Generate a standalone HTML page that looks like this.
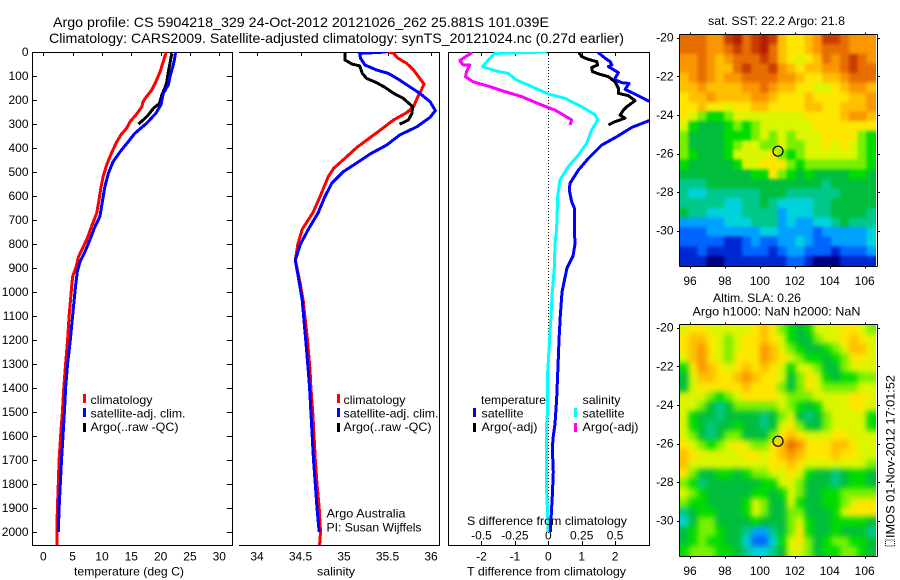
<!DOCTYPE html>
<html>
<head>
<meta charset="utf-8">
<title>Argo profile 5904218_329</title>
<style>
html,body{margin:0;padding:0;background:#fff;}
svg{display:block;font-family:"Liberation Sans",sans-serif;font-size:12px;fill:#000;}
.crisp{shape-rendering:crispEdges;}
</style>
</head>
<body>
<svg id="figure" xmlns="http://www.w3.org/2000/svg" width="900" height="580" viewBox="0 0 900 580">
<rect x="0" y="0" width="900" height="580" fill="#fff"/>
<defs>
<clipPath id="clip-temp"><rect x="33" y="52" width="199" height="493"/></clipPath>
<clipPath id="clip-sal"><rect x="239" y="52" width="201" height="493"/></clipPath>
<clipPath id="clip-diff"><rect x="449" y="52" width="200" height="493"/></clipPath>
<clipPath id="clip-sst-map"><rect x="680" y="35" width="196" height="231"/></clipPath>
<clipPath id="clip-sla-map"><rect x="680" y="325" width="196" height="231"/></clipPath>
<filter id="blur-sst-map" color-interpolation-filters="sRGB" x="-10%" y="-10%" width="120%" height="120%">
<feGaussianBlur stdDeviation="1.7"/>
<feComponentTransfer><feFuncA type="linear" slope="100"/></feComponentTransfer>
</filter>
<filter id="blur-sla-map" color-interpolation-filters="sRGB" x="-10%" y="-10%" width="120%" height="120%">
<feGaussianBlur stdDeviation="3"/>
<feComponentTransfer><feFuncA type="linear" slope="100"/></feComponentTransfer>
</filter>
</defs>

<text x="53" y="27" font-size="14" textLength="496" lengthAdjust="spacingAndGlyphs">Argo profile: CS 5904218_329 24-Oct-2012 20121026_262 25.881S 101.039E</text>
<text x="49" y="43" font-size="14" textLength="575" lengthAdjust="spacingAndGlyphs">Climatology: CARS2009. Satellite-adjusted climatology: synTS_20121024.nc (0.27d earlier)</text>

<g id="temp-panel"></g>
<g id="sal-panel"></g>
<g id="diff-panel"></g>
<g id="sst-map"></g>
<g id="sla-map"></g>

<text x="74" y="575.5" textLength="110" lengthAdjust="spacingAndGlyphs">temperature (deg C)</text>
<text x="317" y="575.5" textLength="38" lengthAdjust="spacingAndGlyphs">salinity</text>
<text x="467" y="575.5" textLength="159" lengthAdjust="spacingAndGlyphs">T difference from climatology</text>
<text x="467" y="525" textLength="160" lengthAdjust="spacingAndGlyphs">S difference from climatology</text>

<g>
<rect class="crisp" x="83" y="394" width="3" height="9" fill="#f00"/>
<rect class="crisp" x="83" y="408" width="3" height="9" fill="#00f"/>
<rect class="crisp" x="83" y="423" width="3" height="9" fill="#000"/>
<text x="90.5" y="404" textLength="62" lengthAdjust="spacingAndGlyphs">climatology</text>
<text x="90.5" y="417.5" textLength="95" lengthAdjust="spacingAndGlyphs">satellite-adj. clim.</text>
<text x="90.5" y="431" textLength="88" lengthAdjust="spacingAndGlyphs">Argo(..raw -QC)</text>
</g>
<g>
<rect class="crisp" x="337" y="394" width="3" height="9" fill="#f00"/>
<rect class="crisp" x="337" y="408" width="3" height="9" fill="#00f"/>
<rect class="crisp" x="337" y="423" width="3" height="9" fill="#000"/>
<text x="343.5" y="404" textLength="62" lengthAdjust="spacingAndGlyphs">climatology</text>
<text x="343.5" y="417.5" textLength="95" lengthAdjust="spacingAndGlyphs">satellite-adj. clim.</text>
<text x="343.5" y="431" textLength="88" lengthAdjust="spacingAndGlyphs">Argo(..raw -QC)</text>
<text x="326.5" y="517.5" textLength="79" lengthAdjust="spacingAndGlyphs">Argo Australia</text>
<text x="326.5" y="531.5" textLength="95" lengthAdjust="spacingAndGlyphs">PI: Susan Wijffels</text>
</g>
<g>
<text x="481" y="404" textLength="65" lengthAdjust="spacingAndGlyphs">temperature</text>
<rect class="crisp" x="473" y="408" width="3" height="9" fill="#00f"/>
<text x="481.5" y="417.5" textLength="42" lengthAdjust="spacingAndGlyphs">satellite</text>
<rect class="crisp" x="473" y="423" width="3" height="9" fill="#000"/>
<text x="481.5" y="431" textLength="56" lengthAdjust="spacingAndGlyphs">Argo(-adj)</text>
<text x="582.5" y="404" textLength="38" lengthAdjust="spacingAndGlyphs">salinity</text>
<rect class="crisp" x="574" y="408" width="3" height="9" fill="#0ff"/>
<text x="582.5" y="417.5" textLength="42" lengthAdjust="spacingAndGlyphs">satellite</text>
<rect class="crisp" x="574" y="423" width="3" height="9" fill="#f0f"/>
<text x="582.5" y="431" textLength="56" lengthAdjust="spacingAndGlyphs">Argo(-adj)</text>
</g>

<text x="708" y="25" textLength="137" lengthAdjust="spacingAndGlyphs">sat. SST: 22.2 Argo: 21.8</text>
<text x="713" y="302" textLength="88" lengthAdjust="spacingAndGlyphs">Altim. SLA: 0.26</text>
<text x="692.5" y="315.5" textLength="168" lengthAdjust="spacingAndGlyphs">Argo h1000: NaN h2000: NaN</text>

<rect class="crisp" x="885.5" y="540" width="9" height="6" fill="none" stroke="#000" stroke-width="1" stroke-dasharray="1 1"/>
<text transform="translate(894.5,538) rotate(-90)" textLength="163" lengthAdjust="spacingAndGlyphs">IMOS 01-Nov-2012 17:01:52</text>

<script>
// ---- Axis tick values ----
const depthTicks = [0,100,200,300,400,500,600,700,800,900,1000,1100,1200,1300,1400,1500,1600,1700,1800,1900,2000];
const tempTicks = [0,5,10,15,20,25,30];
const salTicks = [34,34.5,35,35.5,36];
const tDiffTicks = [-2,-1,0,1,2];
const sDiffTicks = [-0.5,-0.25,0,0.25,0.5];
const lonTicks = [96,98,100,102,104,106];
const latTicks = [-20,-22,-24,-26,-28,-30];

// ---- Temperature panel series ----
const climTempDepth = [0,40,82,124,158,186,207,228,262,290,318,346,380,422,470,520,568,617,672,728,776,818,853,894,936,985,1100,1200,1300,1400,1500,1600,1700,1800,1900,2000,2054];
const climTemp = [20.95,20.45,19.9,19.2,18.5,17.6,17.0,16.8,15.8,14.8,14.2,13.2,12.4,11.6,10.8,10.2,9.8,9.5,9.1,8.2,7.5,6.7,6.0,5.6,5.0,4.8,4.4,4.15,3.8,3.5,3.25,2.95,2.7,2.55,2.4,2.3,2.3];
const satTempDepth = [0,40,103,137,172,220,255,297,339,373,415,457,505,561,617,686,728,783,832,874,915,985,1100,1200,1300,1400,1500,1600,1700,1800,1900,2000];
const satTemp = [22.55,22.3,21.6,21.3,20.45,20.05,19.2,17.6,15.6,14.5,13.1,11.9,11.1,10.5,10.1,9.65,8.8,7.95,7.1,6.25,5.8,5.45,5.0,4.6,4.15,3.8,3.6,3.35,3.1,2.9,2.7,2.55];
const argoTempDepth = [5,47,82,130,151,179,214,235,262,283,301];
const argoTemp = [21.9,21.6,21.3,21.0,20.7,20.2,19.8,18.75,17.9,17.05,16.2];

// ---- Salinity panel series ----
const climSalDepth = [0,6,26,47,75,110,133,158,193,228,253,283,311,346,397,443,485,519,589,665,739,800,867,950,1033,1200,1330,1400,1500,1600,1700,1800,1900,2000,2054];
const climSal = [35.51,35.57,35.62,35.72,35.80,35.87,35.92,35.89,35.84,35.80,35.72,35.57,35.47,35.34,35.15,35.01,34.88,34.82,34.74,34.65,34.52,34.47,34.44,34.49,34.53,34.58,34.61,34.62,34.64,34.655,34.67,34.69,34.715,34.73,34.72];
const satSalDepth = [0,6,26,54,75,89,117,151,172,207,244,272,311,346,388,425,471,499,547,603,672,739,800,867,950,1033,1200,1330,1400,1500,1600,1700,1800,1900,2000];
const satSal = [35.49,35.18,35.19,35.24,35.375,35.51,35.64,35.78,35.87,35.99,36.05,35.99,35.84,35.64,35.49,35.30,35.11,34.99,34.86,34.78,34.70,34.59,34.50,34.44,34.48,34.52,34.56,34.59,34.605,34.62,34.635,34.65,34.67,34.69,34.715];
const argoSalDepth = [3,33,50,58,89,110,128,147,172,193,228,256,283,301];
const argoSal = [35.01,35.01,35.09,35.18,35.21,35.26,35.375,35.47,35.57,35.68,35.79,35.78,35.74,35.64];

// ---- Difference panel series ----
const satTDiffDepth = [0,26,40,54,61,86,114,128,131,156,179,204,245,286,314,353,388,443,492,547,575,624,651,739,800,850,900,1000,1100,1200,1340,1450,1550,1600,1650,1750,1850,1900,1950,2000];
const satTDiff = [1.48,1.70,1.85,1.90,1.80,2.10,1.98,2.20,2.42,2.30,2.65,3.00,3.90,3.02,2.50,2.05,1.60,1.20,0.90,0.65,0.63,0.70,0.78,0.78,0.80,0.74,0.56,0.41,0.36,0.32,0.28,0.25,0.20,0.15,0.12,0.15,0.12,0.10,0.08,0.06];
const argoTDiffDepth = [3,19,31,40,54,64,82,93,103,124,151,172,182,203,228,242,263,276,290,304];
const argoTDiff = [0.92,1.00,1.20,1.45,1.48,1.30,1.32,1.55,1.80,2.00,2.10,2.10,2.40,2.60,2.35,2.25,2.15,2.30,2.00,1.80];
const satSDiffDepth = [0,6,19,61,78,89,117,144,175,193,228,262,283,325,380,429,478,533,603,739,800,900,1000,1100,1200,1340,1500,1560,1800,1860,2000];
const satSDiff = [-0.0125,-0.40,-0.425,-0.4925,-0.40,-0.30,-0.2375,-0.125,0,0.125,0.25,0.35,0.37,0.325,0.2875,0.225,0.15,0.0875,0.07,0.0625,0.05,0.045,0.03,0.02,0.01,-0.005,-0.005,-0.015,-0.015,-0.01,0];
const argoSDiffDepth = [3,17,36,54,54,82,103,124,142,165,186,221,242,283,304];
const argoSDiff = [-0.57,-0.6125,-0.6625,-0.6375,-0.5875,-0.6125,-0.62,-0.5625,-0.45,-0.325,-0.2,-0.05,0.05,0.175,0.1625];

// ---- Map data: colour levels 0 (coldest / lowest) to 15 (warmest / highest), rows north to south ----
const sstGrid = [
[13,13,13,12,12,14,15,13,14,15,14,11,10,10,11,12,14,14,13,12,12,12],
[13,13,13,12,12,13,14,13,14,15,13,11,10,10,11,12,13,13,13,12,12,12],
[12,12,13,12,11,12,13,13,13,14,13,11,10,9,10,11,13,12,13,14,13,12],
[12,12,13,12,11,11,13,14,13,13,14,12,11,10,11,11,12,12,13,14,13,13],
[11,12,13,12,11,12,12,13,13,13,13,12,12,11,10,10,11,11,12,13,13,13],
[11,11,12,11,11,11,11,12,12,13,12,11,11,10,10,9,9,10,11,12,12,11],
[10,11,11,12,11,11,11,11,12,12,11,10,10,10,11,10,10,10,10,11,11,12],
[10,10,11,10,10,9,10,10,11,11,10,10,10,10,11,11,10,10,11,11,11,12],
[10,9,8,7,7,8,9,9,9,9,9,9,9,9,10,10,10,10,11,12,12,11],
[9,7,6,6,6,7,8,7,8,9,9,9,9,9,9,10,10,10,10,10,10,10],
[8,6,6,6,6,7,7,7,8,9,8,9,8,9,9,9,10,10,10,10,8,7],
[8,6,6,6,6,7,8,9,9,8,8,9,8,8,9,9,10,9,10,9,8,7],
[8,7,6,6,6,7,9,9,9,9,10,8,7,8,9,9,9,9,9,9,8,7],
[7,6,6,6,6,6,7,9,9,10,10,10,8,7,8,8,8,8,8,8,8,7],
[6,6,6,6,6,6,6,6,7,7,10,8,7,6,7,6,6,6,6,7,7,6],
[5,5,5,6,6,6,6,6,6,6,6,6,6,6,6,6,5,6,6,6,6,6],
[5,4,4,5,5,5,5,5,5,6,6,6,5,5,5,5,5,5,6,6,6,6],
[5,5,5,5,5,4,4,5,5,6,5,4,4,4,4,5,5,6,6,6,6,6],
[6,5,5,4,4,4,4,5,5,5,5,3,4,4,4,5,5,6,6,6,6,5],
[3,3,3,3,3,4,4,4,5,5,5,3,4,3,3,4,4,5,6,5,5,5],
[2,2,2,3,3,3,3,3,3,4,4,3,3,3,3,2,3,3,3,3,3,4],
[2,2,2,2,2,1,1,2,3,2,2,3,3,4,3,2,2,3,3,3,3,4],
[1,1,2,1,1,1,1,2,2,2,1,2,3,3,2,2,2,1,2,2,2,3],
[1,1,1,0,0,1,1,1,1,1,1,1,2,2,1,0,0,0,1,1,1,1]
];
const slaGrid = [
[9,10,10,9,9,9,9,9,10,11,10,8,7,6,7,9,9,9,10,10,9,8],
[10,11,11,10,9,8,9,10,10,11,10,9,7,6,6,8,9,9,10,11,10,9],
[10,11,12,10,9,8,9,10,10,12,11,9,8,7,6,6,7,8,9,11,11,9],
[9,11,12,10,9,8,10,10,10,12,11,10,9,8,7,7,6,7,8,10,10,9],
[7,10,12,11,10,9,10,11,10,11,10,9,7,9,9,8,6,6,8,9,9,9],
[6,9,11,11,10,10,11,12,11,10,10,9,6,8,10,9,7,6,7,7,8,8],
[6,9,10,10,10,10,10,11,10,10,10,8,6,8,10,9,8,8,8,8,9,9],
[9,9,9,8,7,8,9,10,10,10,10,9,8,8,8,9,9,9,9,10,10,9],
[9,9,8,6,5,6,8,8,8,8,8,9,8,7,6,7,9,9,9,10,10,9],
[9,7,6,6,5,6,6,6,6,5,6,8,9,6,5,6,8,9,9,9,9,7],
[9,7,6,5,6,6,7,6,6,5,6,9,10,8,6,6,8,9,9,9,9,7],
[9,8,6,5,6,8,8,6,6,6,8,10,11,10,9,9,9,10,10,9,9,9],
[10,9,8,7,8,9,10,9,8,8,10,11,13,12,10,10,10,11,11,10,9,9],
[11,10,9,9,9,9,9,10,10,9,10,11,12,11,10,10,10,11,10,10,9,9],
[11,9,9,9,9,9,9,9,9,9,10,10,11,10,9,9,9,9,9,9,9,8],
[10,8,6,6,7,7,6,7,8,8,9,9,10,9,7,6,6,5,6,7,7,6],
[8,7,5,6,6,6,6,6,6,7,7,9,9,8,6,6,6,5,6,7,7,6],
[9,8,7,6,6,6,6,6,7,7,6,7,9,8,6,6,7,7,8,8,8,8],
[8,7,7,6,6,6,6,7,9,8,6,6,9,7,6,6,7,7,8,9,10,10],
[5,6,7,7,6,6,6,7,9,8,6,6,8,8,6,6,6,7,9,10,10,10],
[4,6,8,8,6,6,6,6,7,6,6,6,8,9,7,6,6,7,7,7,7,6],
[6,7,8,8,7,6,6,5,3,3,5,6,8,10,7,6,6,7,6,6,6,5],
[6,7,8,7,7,6,6,4,2,2,4,7,9,10,8,6,7,8,8,7,7,6],
[7,8,8,8,7,7,6,5,4,4,5,6,9,9,8,6,7,7,8,8,7,6]
];
const argoLon = 101.04;
const argoLat = -25.88;

// ---- Colour scale ----
const levelColors = ["#000082","#0028d2","#0064ff","#00a0ff","#00d2dc","#00c88c","#00be3c","#00dc00","#78f000","#dcf500","#ffe600","#ffbe00","#fa9600","#e66e00","#c83c00","#b41e00"];

// ---- Axis functions ----
const depthY = d => 52 + d * 0.24;
const tempX = v => 43.3 + v * 5.867;
const salX = v => 257 + (v - 34) * 87;
const tDiffX = v => 548.3 + v * 33.4;
const sDiffX = v => 548.3 + v * 133.6;
const lonX = v => 690 + (v - 96) * 17.47;
const latY = (v, off) => 37.7 + off + (-20 - v) * 19.3;

const NS = "http://www.w3.org/2000/svg";
function mk(parent, tag, attrs, txt) {
  const el = document.createElementNS(NS, tag);
  for (const k in attrs) el.setAttribute(k, attrs[k]);
  if (txt !== undefined) el.textContent = txt;
  parent.appendChild(el);
  return el;
}
function axisLine(parent, x1, y1, x2, y2, name) {
  const el = mk(parent, "line", {x1:x1, y1:y1, x2:x2, y2:y2, stroke:"#000", "stroke-width":1, class:"crisp"});
  
  
  return el;
}
function label(parent, x, y, anchor, txt, name) {
  const el = mk(parent, "text", {x:x, y:y, "text-anchor":anchor}, txt);
  
  
  return el;
}
function series(parent, xs, ds, xFn, color, width, clip, name) {
  const pts = xs.map((v, i) => xFn(v).toFixed(1) + "," + depthY(ds[i]).toFixed(1)).join(" ");
  const el = mk(parent, "polyline", {points:pts, fill:"none", stroke:color, "stroke-width":width, "stroke-linejoin":"round", class:"crisp", "clip-path":"url(#" + clip + ")"});
  
  
  return el;
}

// ---- Temperature panel ----
const tp = document.getElementById("temp-panel");
axisLine(tp, 32.5, 52.5, 232.5, 52.5, "temperature-top-axis");
axisLine(tp, 32.5, 545.5, 232.5, 545.5, "temperature-bottom-axis");
axisLine(tp, 32.5, 52, 32.5, 546, "depth-axis");
axisLine(tp, 232.5, 52, 232.5, 546, "temperature-right-axis");
depthTicks.forEach(d => {
  const y = Math.round(depthY(d)) + 0.5;
  axisLine(tp, 33, y, 37, y, "depth-tick-left");
  axisLine(tp, 227, y, 232, y, "depth-tick-right");
  label(tp, 28.5, depthY(d) + 4, "end", String(d), "depth-tick-label");
});
tempTicks.forEach(v => {
  const x = Math.round(tempX(v)) + 0.5;
  axisLine(tp, x, 52, x, 56, "temperature-tick-top");
  label(tp, tempX(v), 560.5, "middle", String(v), "temperature-tick-label");
});
series(tp, climTemp, climTempDepth, tempX, "#f00", 3, "clip-temp", "temperature-climatology-line");
series(tp, argoTemp, argoTempDepth, tempX, "#000", 3, "clip-temp", "temperature-argo-line");
series(tp, satTemp, satTempDepth, tempX, "#00f", 3, "clip-temp", "temperature-satellite-line");

// ---- Salinity panel ----
const sp = document.getElementById("sal-panel");
axisLine(sp, 239, 52.5, 440, 52.5, "salinity-top-axis");
axisLine(sp, 239, 545.5, 440, 545.5, "salinity-bottom-axis");
axisLine(sp, 439.5, 52, 439.5, 546, "salinity-right-axis");
salTicks.forEach(v => {
  const x = Math.round(salX(v)) + 0.5;
  axisLine(sp, x, 52, x, 56, "salinity-tick-top");
  label(sp, salX(v), 560.5, "middle", String(v), "salinity-tick-label");
});
series(sp, climSal, climSalDepth, salX, "#f00", 3, "clip-sal", "salinity-climatology-line");
series(sp, argoSal, argoSalDepth, salX, "#000", 3, "clip-sal", "salinity-argo-line");
series(sp, satSal, satSalDepth, salX, "#00f", 3, "clip-sal", "salinity-satellite-line");

// ---- Difference panel ----
const dp = document.getElementById("diff-panel");
axisLine(dp, 448.5, 52.5, 649.5, 52.5, "difference-top-axis");
axisLine(dp, 448.5, 545.5, 649.5, 545.5, "difference-bottom-axis");
axisLine(dp, 448.5, 52, 448.5, 546, "difference-left-axis");
axisLine(dp, 649.5, 52, 649.5, 546, "difference-right-axis");
const zeroLine = mk(dp, "line", {x1:548.5, y1:52, x2:548.5, y2:533, stroke:"#000", "stroke-width":1, "stroke-dasharray":"1 2", class:"crisp"});


tDiffTicks.forEach(v => {
  const x = Math.round(tDiffX(v)) + 0.5;
  axisLine(dp, x, 52, x, 56, "t-difference-tick-top");
  axisLine(dp, x, 541, x, 545, "t-difference-tick-bottom");
  label(dp, tDiffX(v), 560.5, "middle", String(v), "t-difference-tick-label");
});
sDiffTicks.forEach(v => {
  label(dp, sDiffX(v), 539.5, "middle", String(v), "s-difference-tick-label");
});
series(dp, satSDiff, satSDiffDepth, sDiffX, "#0ff", 3, "clip-diff", "salinity-satellite-difference-line");
series(dp, satTDiff, satTDiffDepth, tDiffX, "#00f", 3, "clip-diff", "temperature-satellite-difference-line");
series(dp, argoTDiff, argoTDiffDepth, tDiffX, "#000", 3, "clip-diff", "temperature-argo-difference-line");
series(dp, argoSDiff, argoSDiffDepth, sDiffX, "#f0f", 3, "clip-diff", "salinity-argo-difference-line");

// ---- Maps ----
function drawMap(gid, grid, off, prefix) {
  const g = document.getElementById(gid);
  const lon0 = 95.41, dLon = 0.5095, lat0 = -19.84, dLat = 0.4987;
  const clipper = mk(g, "g", {"clip-path":"url(#clip-" + gid + ")"});
  
  
  const field = mk(clipper, "g", {filter:"url(#blur-" + gid + ")"});
  
  
  grid.forEach((row, r) => {
    row.forEach((lvl, c) => {
      const x0 = lonX(lon0 + c * dLon), x1 = lonX(lon0 + (c + 1) * dLon);
      const y0 = latY(lat0 - r * dLat, off), y1 = latY(lat0 - (r + 1) * dLat, off);
      const cell = mk(field, "rect", {x:x0.toFixed(2), y:y0.toFixed(2), width:(x1 - x0 + 0.5).toFixed(2), height:(y1 - y0 + 0.5).toFixed(2), fill:levelColors[lvl], class:"crisp"});
      
      
    });
  });
  const top = 34.5 + off, bottom = 266.5 + off;
  axisLine(g, 679.5, top, 877.5, top, prefix + "-top-axis");
  axisLine(g, 679.5, bottom, 877.5, bottom, prefix + "-bottom-axis");
  axisLine(g, 679.5, top, 679.5, bottom, prefix + "-left-axis");
  axisLine(g, 877.5, top, 877.5, bottom, prefix + "-right-axis");
  lonTicks.forEach(v => {
    const x = Math.round(lonX(v)) + 0.5;
    axisLine(g, x, bottom, x, bottom + 2, prefix + "-lon-tick");
    axisLine(g, x, top - 2, x, top, prefix + "-lon-tick-top");
    label(g, lonX(v), 285 + off, "middle", String(v), prefix + "-lon-tick-label");
  });
  latTicks.forEach(v => {
    const y = Math.round(latY(v, off)) + 0.5;
    axisLine(g, 677, y, 679, y, prefix + "-lat-tick");
    axisLine(g, 878, y, 880, y, prefix + "-lat-tick-right");
    label(g, 673.5, latY(v, off) + 4, "end", String(v), prefix + "-lat-tick-label");
  });
  const marker = mk(g, "circle", {cx:lonX(argoLon).toFixed(1), cy:latY(argoLat, off).toFixed(1), r:5, fill:"none", stroke:"#000", "stroke-width":1.2});
  
  
}
drawMap("sst-map", sstGrid, 0, "sst-map");
drawMap("sla-map", slaGrid, 290, "sla-map");
</script>
</svg>
</body>
</html>
